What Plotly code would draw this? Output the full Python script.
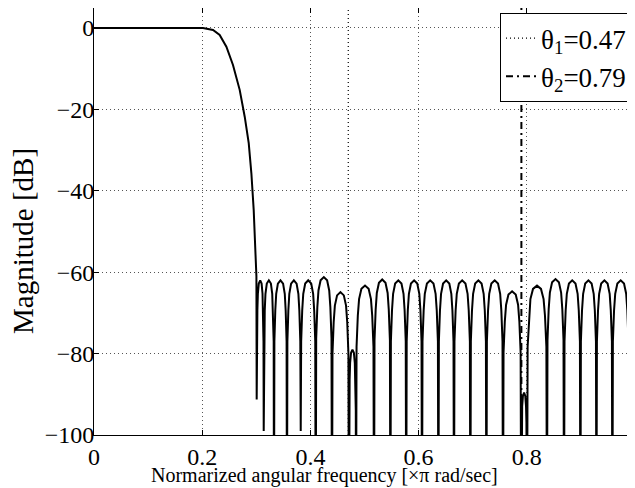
import plotly.graph_objects as go

# ---- data ----
# passband + transition band (normalized freq, dB)
pass_f = [0.0, 0.05, 0.10, 0.15, 0.20, 0.2015, 0.220, 0.2323, 0.2447, 0.2569,
          0.2693, 0.2786, 0.2860, 0.2909, 0.2952, 0.2983, 0.3002, 0.3007]
pass_db = [0, 0, 0, 0, 0, 0, -0.5, -1.7, -4.6, -9.1,
           -15.2, -21.8, -28.3, -35.7, -44.7, -54.5, -61.0, -91.3]

# stopband nulls (freq) and their depth (values below -100 are off the axis)
null_f = [0.3007, 0.3137, 0.3327, 0.3567, 0.3821, 0.4098, 0.4399, 0.4712, 0.4843,
          0.5176, 0.5479, 0.5771, 0.6063, 0.6366, 0.6654, 0.6957, 0.7253, 0.7560,
          0.7896, 0.8004, 0.8373, 0.8688, 0.8991, 0.9287, 0.9582, 0.9889, 1.0111]
null_db = [-91.3, -99, -130, -130, -99, -130, -130, -130, -130,
           -130, -130, -130, -130, -130, -130, -130, -130, -130,
           -130, -130, -130, -130, -130, -130, -130, -130, -130]
# peak level of each sidelobe between consecutive nulls
lobe_peak_db = [-62, -62, -62, -62, -62, -61.2, -64.9, -79.0, -63.3,
                -61.8, -62, -62, -62, -62, -62, -62, -62, -64.7,
                -89.6, -63.3, -61.7, -62, -62, -62, -62, -62]
# shape of one sidelobe
# (fraction across the lobe, dB below the lobe's peak)
lobe_shape_t = [0.03, 0.10, 0.17, 0.30, 0.50, 0.70, 0.83, 0.90, 0.97]
lobe_shape_db = [-15, -7.4, -3.3, -0.8, 0, -0.8, -3.3, -7.4, -15]

theta_vals = [0.47, 0.79]
theta_names = ["θ<sub>1</sub>=0.47", "θ<sub>2</sub>=0.79"]

x_ticks = [0, 0.2, 0.4, 0.6, 0.8, 1.0]
x_ticktext = ["0", "0.2", "0.4", "0.6", "0.8", "1"]
y_ticks = [0, -20, -40, -60, -80, -100]
y_ticktext = ["0", "−20", "−40", "−60", "−80", "−100"]

# ---- build curve ----
freq = list(pass_f)
mag = list(pass_db)
for i, pk in enumerate(lobe_peak_db):
    a, b = null_f[i], null_f[i + 1]
    for t, d in zip(lobe_shape_t, lobe_shape_db):
        freq.append(a + t * (b - a))
        mag.append(pk + d)
    freq.append(b)
    mag.append(null_db[i + 1])

FONT = "'Liberation Serif', 'Times New Roman', Times, serif"
YMIN, YMAX = -100, 4.91

# page is shown with an 8px body margin; plot area on page: x 94..635, y 8..435
W, H = 635, 480
L, R, B, T = 86, 8, 53, 0
PW, PH = W - L - R, H - T - B


def px(xp):
    return (xp - 8 - L) / PW


def py(yp):
    return (H - B - (yp - 8)) / PH


fig = go.Figure()
fig.add_trace(go.Scatter(x=freq, y=mag, mode="lines",
                         line=dict(color="black", width=2), showlegend=False,
                         hoverinfo="skip"))
dashes = ["1px,3px", "7px,4px,2px,4px"]
widths = [1.2, 2]
for i, (tv, nm) in enumerate(zip(theta_vals, theta_names)):
    fig.add_trace(go.Scatter(x=[tv, tv], y=[YMIN, YMAX], mode="lines", name=nm,
                             line=dict(color="black", width=widths[i], dash=dashes[i]),
                             legendgroup=f"g{i}", hoverinfo="skip"))

axis_common = dict(showline=True, linecolor="black", linewidth=1, mirror="ticks",
                   ticks="inside", ticklen=5, tickcolor="black",
                   showgrid=True, gridcolor="#555", gridwidth=1, griddash="1px,3px",
                   zeroline=False, tickfont=dict(family=FONT, size=24, color="black"))

fig.update_xaxes(range=[0, 1], tickvals=x_ticks, ticktext=x_ticktext, **axis_common)
fig.update_yaxes(range=[YMIN, YMAX], tickvals=y_ticks, ticktext=y_ticktext,
                 ticklabelstandoff=-6, **axis_common)

fig.update_layout(
    width=W, height=H,
    margin=dict(l=L, r=R, t=T, b=B, pad=0),
    plot_bgcolor="white", paper_bgcolor="white",
    font=dict(family=FONT, color="black"),
    legend=dict(x=px(632), xanchor="right", y=py(13), yanchor="top",
                bgcolor="white", bordercolor="black", borderwidth=1,
                font=dict(family=FONT, size=27, color="black"),
                tracegroupgap=0),
    annotations=[
        dict(text="Normarized angular frequency [×π rad/sec]", xref="paper", yref="paper",
             x=px(324), y=py(476), xanchor="center", yanchor="middle",
             showarrow=False, font=dict(family=FONT, size=20, color="black")),
        dict(text="Magnitude [dB]", xref="paper", yref="paper",
             x=px(23), y=py(241), xanchor="center", yanchor="middle",
             textangle=-90, showarrow=False, font=dict(family=FONT, size=29, color="black")),
    ],
)

fig.write_html("out.html")
